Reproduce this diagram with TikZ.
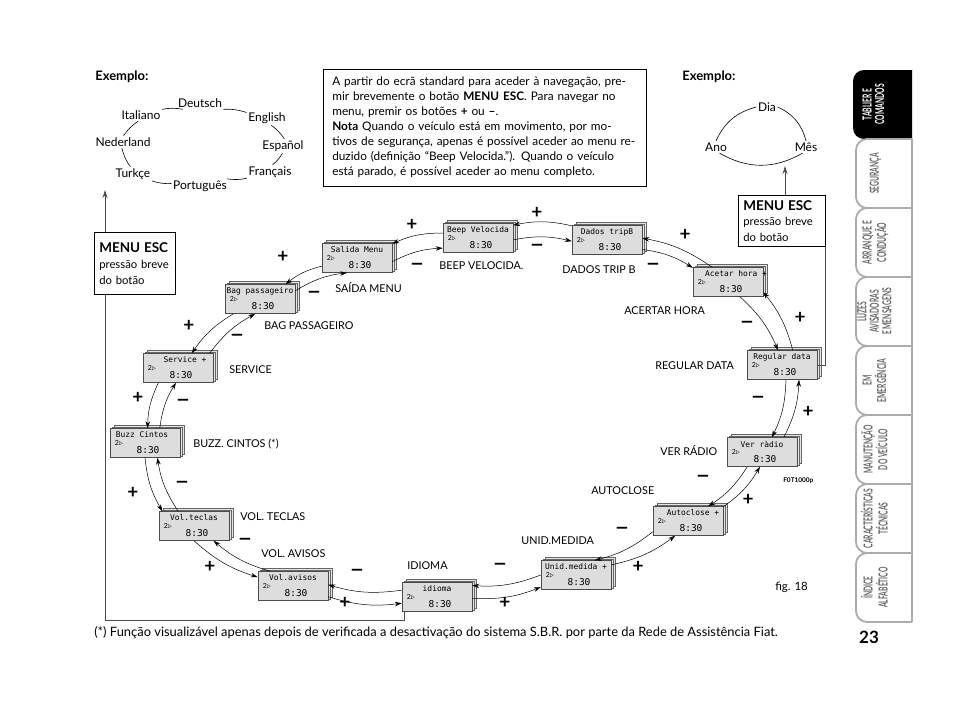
\documentclass[tikz,border=0pt]{standalone}
\usepackage{fontspec}
\usepackage{graphicx}
\setmainfont{Lato}
\setmonofont{DejaVu Sans Mono}
\usetikzlibrary{arrows.meta, calc, positioning}

% ecra do painel: [desvio do titulo] nome, x, y, titulo
\newcommand{\ecra}[5][0]{%
  \begin{scope}[shift={(#3,#4)}]
    \filldraw[lcd layer] (-31,-18) rectangle (39,11);
    \filldraw[lcd layer] (-33,-16) rectangle (37,13);
    \node[lcd] (#2) at (0,0) {};
    \node[lcd title] at (#1,-8) {#5};
    \node[lcd icon] at (-26,0) {2$\triangleright$};
    \node[lcd time] at (3,7.5) {8:30};
  \end{scope}}
% linha justificada da caixa de texto
\newcommand{\jl}[1]{\leavevmode\hbox to 305pt{#1}}

\begin{document}
\begin{tikzpicture}[x=1pt, y=-1pt, line width=0.6pt,
  lcd/.style={draw=black!70, fill=gray!27, line width=0.5pt, minimum width=70pt, minimum height=29pt, inner sep=0pt},
  lcd layer/.style={draw=black!60, fill=gray!20, line width=0.4pt},
  lcd title/.style={font=\fontsize{7.9}{8}\selectfont\ttfamily, inner sep=0pt},
  lcd icon/.style={font=\fontsize{7}{7}\selectfont, inner sep=0pt},
  lcd time/.style={font=\fontsize{9.5}{10}\selectfont\ttfamily, inner sep=0pt},
  rotulo/.style={font=\fontsize{10.8}{12}\selectfont, anchor=west, inner sep=0pt},
  sinal/.style={font=\bfseries\fontsize{19}{19}\selectfont, inner sep=0pt},
  seta/.style={-{Stealth[length=7pt, width=4.5pt]}, line width=0.5pt},
  lingua/.style={font=\fontsize{12}{13}\selectfont, inner sep=1.5pt},
  elo/.style={line width=0.6pt},
  caixa/.style={draw, line width=0.6pt, fill=white, align=left, inner xsep=5pt},
  ligacao/.style={line width=0.9pt, draw=black!70},
  aba/.style={draw=gray!65, line width=1.8pt},
  aba texto/.style={rotate=90, text=black!60, font=\bfseries\fontsize{12.5}{11}\selectfont, inner sep=0pt}]

\useasboundingbox (0,0) rectangle (960,709);

% Exemplo: linguas
\node[anchor=west, font=\bfseries\fontsize{13}{14}\selectfont, inner sep=0pt] (ex1) at (95,77) {Exemplo:};
\node[lingua] (deutsch) at (200,103) {Deutsch};
\node[lingua] (italiano) at (141,115) {Italiano};
\node[lingua] (english) at (267,118) {English};
\node[lingua] (nederland) at (123,142) {Nederland};
\node[lingua] (espanol) at (283,146) {Español};
\node[lingua] (turkce) at (133,174) {Turkçe};
\node[lingua] (francais) at (270,172) {Français};
\node[lingua] (portugues) at (200,186) {Português};
\draw[elo] (italiano.15) to[bend left=10] (deutsch.200);
\draw[elo] (deutsch.-15) to[bend left=10] (english.165);
\draw[elo] (english.-60) to[bend left=10] (espanol.80);
\draw[elo] (espanol.-95) to[bend left=10] (francais.70);
\draw[elo] (francais.195) to[bend left=10] (portugues.15);
\draw[elo] (portugues.175) to[bend left=10] (turkce.-20);
\draw[elo] (turkce.110) to[bend left=10] (nederland.-100);
\draw[elo] (nederland.85) to[bend left=10] (italiano.-115);

% Exemplo: data
\node[anchor=west, font=\bfseries\fontsize{13}{14}\selectfont, inner sep=0pt] (ex2) at (682,77) {Exemplo:};
\node[lingua] (dia) at (767,107) {Dia};
\node[lingua] (ano) at (716,147) {Ano};
\node[lingua] (mes) at (806,147) {Mês};
\draw[elo] (dia.west) to[bend right=25] (ano.north);
\draw[elo] (dia.east) to[bend left=25] (mes.north);
\draw[elo] (ano.-60) to[bend right=30] (mes.-120);

% Caixa de texto
\node[caixa, anchor=north west, text width=305pt, inner xsep=9pt, inner ysep=8pt, font=\fontsize{11.8}{15}\selectfont] (info) at (323,69) {%
\jl{A partir do ecrã standard para aceder à navegação, pre-}\\
\jl{mir brevemente o botão \textbf{MENU ESC}. Para navegar no}\\
menu, premir os botões \textbf{+} ou \textbf{–}.\\
\jl{\textbf{Nota} Quando o veículo está em movimento, por mo-}\\
\jl{tivos de segurança, apenas é possível aceder ao menu re-}\\
\jl{duzido (definição “Beep Velocida.”). Quando o veículo}\\
está parado, é possível aceder ao menu completo.};

% Ecras do menu
\ecra{salida}{357}{258}{Salida Menu}
\ecra{beep}{478}{238}{Beep Velocida}
\ecra{dados}{607}{240}{Dados tripB}
\ecra[8]{acetar}{728}{282}{Acetar hora +}
\ecra{regular}{782}{365}{Regular data}
\ecra{ver}{762}{452}{Ver ràdio}
\ecra[5]{autoclose}{688}{521}{Autoclose +}
\ecra{unid}{576}{575}{Unid.medida +}
\ecra{idioma}{437}{597}{idioma}
\ecra{avisos}{293}{586}{Vol.avisos}
\ecra{teclas}{194}{526}{Vol.teclas}
\ecra[-3]{buzz}{145}{443}{Buzz Cintos}
\ecra[7]{service}{178}{368}{Service +}
\ecra{bag}{260}{299}{Bag passageiro}

% Setas entre ecras (- sentido horario, + sentido contrario)
\foreach \a/\b/\am/\bm/\bp/\ap in {bag/salida/13/236/193/30, salida/beep/-6/196/172/22,
    beep/dados/-3/182/158/20, dados/acetar/-15/158/137/3, acetar/regular/-51/105/54/-16,
    regular/ver/-75/56/34/-41, ver/autoclose/225/36/22/262, autoclose/unid/197/38/16/229,
    unid/idioma/180/18/-2/199, idioma/avisos/169/2/-17/190, avisos/teclas/147/-37/270/166,
    teclas/buzz/137/-50/270/155, buzz/service/45/262/217/80, service/bag/25/252/209/47}
{
  \draw[seta] (\a.\am) to[bend left=12] (\b.\bm);
  \draw[seta] (\b.\bp) to[bend right=12] (\a.\ap);
}

% Sinais + e -
\foreach \x/\y [count=\k] in {283/257, 412/225, 537/213, 685/235, 800/318, 808/412, 748/500,
    638/567, 505/603, 345/603, 210/567, 133/493, 138/398, 189/326}
  \node[sinal] (mais\k) at (\x,\y) {+};
\foreach \x/\y [count=\k] in {314/295, 417/267, 537/248, 653/267, 747/325, 758/400, 703/479,
    622/531, 500/567, 357/573, 245/542, 182/485, 183/403, 237/338}
  \node[sinal] (menos\k) at (\x,\y) {\scalebox{1.35}[1.1]{–}};

% Rotulos
\node[rotulo] (lsalida) at (335,288) {SAÍDA MENU};
\node[rotulo] (lbeep) at (439,266) {BEEP VELOCIDA.};
\node[rotulo] (ldados) at (562,270) {DADOS TRIP B};
\node[rotulo] (lacetar) at (624,311) {ACERTAR HORA};
\node[rotulo] (lregular) at (655,366) {REGULAR DATA};
\node[rotulo] (lver) at (660,451) {VER RÁDIO};
\node[rotulo] (lautoclose) at (591,491) {AUTOCLOSE};
\node[rotulo] (lunid) at (521,541) {UNID.MEDIDA};
\node[rotulo] (lidioma) at (407,566) {IDIOMA};
\node[rotulo] (lavisos) at (261,554) {VOL. AVISOS};
\node[rotulo] (lteclas) at (240,517) {VOL. TECLAS};
\node[rotulo] (lbuzz) at (193,444) {BUZZ. CINTOS (*)};
\node[rotulo] (lservice) at (229,370) {SERVICE};
\node[rotulo] (lbag) at (264,326) {BAG PASSAGEIRO};

% MENU ESC
\coordinate (linguas) at (105,190);
\coordinate (canto) at (105,620);
\draw[ligacao, -{Stealth[length=8pt, width=5pt]}] ([xshift=3pt]idioma.south west) |- (canto) -- (linguas);
\node[caixa, anchor=north west, text width=71pt, inner ysep=10pt, font=\fontsize{11.3}{16}\selectfont] (escE) at (94,232)
  {{\bfseries\fontsize{13.5}{16}\selectfont MENU ESC}\\pressão breve\\do botão};
\node[caixa, anchor=north west, text width=77pt, inner ysep=5pt, font=\fontsize{11.3}{15.5}\selectfont] (escD) at (738,195)
  {{\bfseries\fontsize{13.5}{15.5}\selectfont MENU ESC}\\pressão breve\\do botão};
\draw[ligacao] (regular.east) -| (escD.south east);
\coordinate (datas) at (785,166);
\draw[ligacao, -{Stealth[length=8pt, width=5pt]}] (escD.north -| datas) -- (datas);

% Notas
\node[anchor=west, font=\fontsize{12.9}{14}\selectfont, inner sep=0pt] (nota) at (94,633)
  {(*) Função visualizável apenas depois de verificada a desactivação do sistema S.B.R. por parte da Rede de Assistência Fiat.};
\node[anchor=west, font=\fontsize{11.5}{12}\selectfont, inner sep=0pt] (fig) at (775,587) {fig. 18};
\node[anchor=west, font=\bfseries\fontsize{6.5}{7}\selectfont, inner sep=0pt] (ref) at (783,481) {F0T1000p};

% Separadores laterais
\fill[black] (912,70) -- (864,70) to[out=180, in=90] (853,81) -- (853,128) to[out=-90, in=180] (864,139) -- (912,139) -- cycle;
\node[aba texto, text=white] (tab0) at (875,104.5) {\scalebox{0.54}[1]{\begin{tabular}{@{}c@{}}TABLIER E\\COMANDOS\end{tabular}}};
\draw[aba] (912,139) -- (912,622);
\foreach \i/\txt in {1/{SEGURANÇA}, 2/{ARRANQUE E\\CONDUÇÃO}, 3/{LUZES\\AVISADORAS\\E MENSAGENS},
    4/{EM\\EMERGÊNCIA}, 5/{MANUTENÇÃO\\DO VEÍCULO}, 6/{CARACTERÍSTICAS\\TÉCNICAS}, 7/{ÍNDICE\\ALFABÉTICO}}
{
  \draw[aba] (912,70+69*\i) -- (867,70+69*\i) to[out=180, in=90] (856,81+69*\i) -- (856,128+69*\i)
    to[out=-90, in=180] (867,139+69*\i) -- (912,139+69*\i);
  \node[aba texto] (tab\i) at (876,104.5+69*\i) {\scalebox{0.54}[1]{\begin{tabular}{@{}c@{}}\txt\end{tabular}}};
}
\node[font=\bfseries\fontsize{17}{17}\selectfont] (pagina) at (869,637) {23};

\end{tikzpicture}
\end{document}
